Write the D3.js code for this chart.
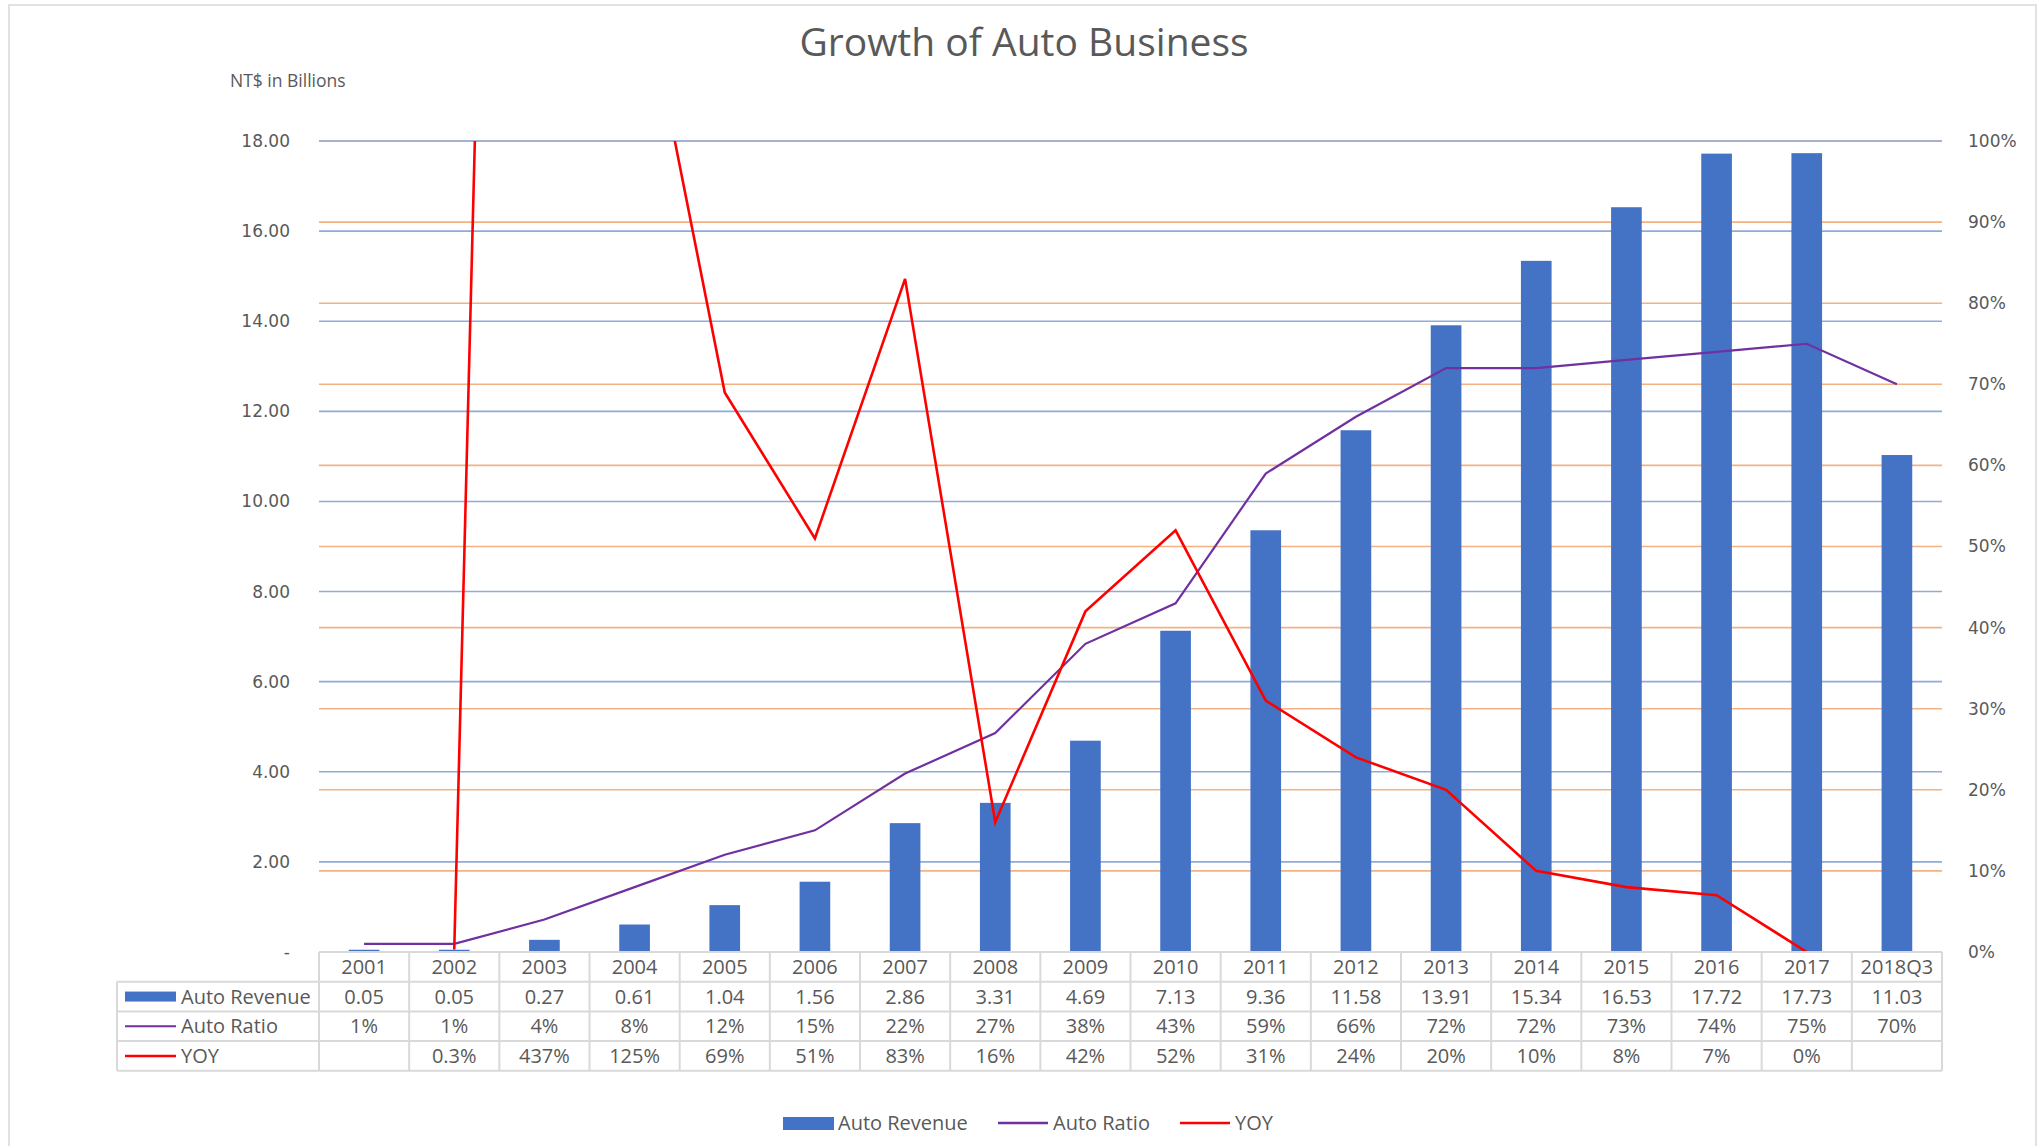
<!DOCTYPE html>
<meta charset="utf-8">
<script src="https://d3js.org/d3.v7.min.js"></script>
<style>
  body { margin: 0; background: #fff; }
  text { fill: #595959; }
</style>
<div id="chart"></div>
<script>

// data
var categories = ["2001","2002","2003","2004","2005","2006","2007","2008","2009",
                  "2010","2011","2012","2013","2014","2015","2016","2017","2018Q3"];
var revenue = [0.05,0.05,0.27,0.61,1.04,1.56,2.86,3.31,4.69,7.13,9.36,11.58,13.91,15.34,16.53,17.72,17.73,11.03];
var ratio   = [0.01,0.01,0.04,0.08,0.12,0.15,0.22,0.27,0.38,0.43,0.59,0.66,0.72,0.72,0.73,0.74,0.75,0.70];
var yoy     = [null,0.003,4.37,1.25,0.69,0.51,0.83,0.16,0.42,0.52,0.31,0.24,0.20,0.10,0.08,0.07,0.00,null];
var leftTicks  = [0,2,4,6,8,10,12,14,16,18];
var rightTicks = [0,0.1,0.2,0.3,0.4,0.5,0.6,0.7,0.8,0.9,1.0];

var width = 2042, height = 1146;
var plotLeft = 319, plotRight = 1942, plotTop = 141, plotBottom = 952;
var rowH = 29.7;
var tableLeft = 117;

var blue = "#4472C4", purple = "#7030A0", red = "#FF0000";

var svg = d3.select("#chart").append("svg")
    .attr("width", width)
    .attr("height", height);

// outer chart border
svg.append("rect")
    .attr("x", 9).attr("y", 5)
    .attr("width", 2027).attr("height", 1160)
    .attr("fill", "none")
    .attr("stroke", "#d9d9d9")
    .attr("stroke-width", 1.5);

var x = d3.scaleBand().domain(categories).range([plotLeft, plotRight]);
var y = d3.scaleLinear().domain([0, 18]).range([plotBottom, plotTop]);
var yR = d3.scaleLinear().domain([0, 1]).range([plotBottom, plotTop]);

// title
svg.append("text")
    .attr("x", 1024).attr("y", 56)
    .attr("text-anchor", "middle")
    .style("font-family", "Open Sans")
    .style("font-size", "39px")
    .text("Growth of Auto Business");

svg.append("text")
    .attr("x", 230).attr("y", 87)
    .style("font-family", "Open Sans")
    .style("font-size", "17.5px")
    .text("NT$ in Billions");

// gridlines: orange for right axis, blue for left axis
svg.append("g").selectAll("line")
  .data(rightTicks.slice(1))
  .enter().append("line")
    .attr("x1", plotLeft).attr("x2", plotRight)
    .attr("y1", function(d){ return yR(d); })
    .attr("y2", function(d){ return yR(d); })
    .attr("stroke", "#F4B183")
    .attr("stroke-width", 1.6);

svg.append("g").selectAll("line")
  .data(leftTicks.slice(1))
  .enter().append("line")
    .attr("x1", plotLeft).attr("x2", plotRight)
    .attr("y1", function(d){ return y(d); })
    .attr("y2", function(d){ return y(d); })
    .attr("stroke", "#8FAADC")
    .attr("stroke-width", 1.6);

// axes
var axL = svg.append("g")
    .attr("transform", "translate(" + (plotLeft - 26) + ",0)")
    .call(d3.axisLeft(y).tickValues(leftTicks).tickSize(0)
      .tickFormat(function(d){ return d === 0 ? "-" : d3.format(".2f")(d); }));
var axR = svg.append("g")
    .attr("transform", "translate(" + (plotRight + 23) + ",0)")
    .call(d3.axisRight(yR).tickValues(rightTicks).tickSize(0).tickFormat(d3.format(".0%")));
[axL, axR].forEach(function(a){
  a.select(".domain").remove();
  a.selectAll("text")
    .style("font-family", "DejaVu Sans")
    .style("font-size", "17px")
    .style("fill", "#595959");
});

// bars
var barW = x.bandwidth() * 0.34;
svg.append("g").selectAll("rect")
  .data(revenue)
  .enter().append("rect")
    .attr("x", function(d, i){ return x(categories[i]) + (x.bandwidth() - barW) / 2; })
    .attr("y", function(d){ return y(d); })
    .attr("width", barW)
    .attr("height", function(d){ return plotBottom - y(d); })
    .attr("fill", blue);

// lines
svg.append("clipPath").attr("id", "plotclip")
  .append("rect")
    .attr("x", plotLeft).attr("y", plotTop)
    .attr("width", plotRight - plotLeft).attr("height", plotBottom - plotTop + 2);

var line = d3.line()
    .defined(function(d){ return d !== null; })
    .x(function(d, i){ return x(categories[i]) + x.bandwidth() / 2; })
    .y(function(d){ return yR(d); });

svg.append("path")
    .datum(ratio)
    .attr("d", line)
    .attr("fill", "none")
    .attr("stroke", purple)
    .attr("stroke-width", 2.2);

svg.append("path")
    .datum(yoy)
    .attr("clip-path", "url(#plotclip)")
    .attr("d", line)
    .attr("fill", "none")
    .attr("stroke", red)
    .attr("stroke-width", 2.6);

// data table
var table = svg.append("g");
var gridCol = "#d9d9d9";
var rows = [
  { name: "Auto Revenue", values: revenue.map(function(d){ return d3.format(".2f")(d); }) },
  { name: "Auto Ratio", values: ratio.map(function(d){ return d3.format(".0%")(d); }) },
  { name: "YOY", values: yoy.map(function(d){
      if (d === null) return "";
      return d < 0.01 && d > 0 ? d3.format(".1%")(d) : d3.format(".0%")(d); }) }
];

// horizontal lines
table.append("line")
    .attr("x1", plotLeft).attr("x2", plotRight)
    .attr("y1", plotBottom).attr("y2", plotBottom)
    .attr("stroke", gridCol).attr("stroke-width", 2);
for (var r = 1; r <= 4; r++) {
  table.append("line")
      .attr("x1", tableLeft).attr("x2", plotRight)
      .attr("y1", plotBottom + r * rowH).attr("y2", plotBottom + r * rowH)
      .attr("stroke", gridCol).attr("stroke-width", 2);
}
// vertical lines
table.append("line")
    .attr("x1", tableLeft).attr("x2", tableLeft)
    .attr("y1", plotBottom + rowH).attr("y2", plotBottom + 4 * rowH)
    .attr("stroke", gridCol).attr("stroke-width", 2);
categories.concat(["end"]).forEach(function(c, i){
  var xx = i < categories.length ? x(c) : plotRight;
  table.append("line")
      .attr("x1", xx).attr("x2", xx)
      .attr("y1", plotBottom).attr("y2", plotBottom + 4 * rowH)
      .attr("stroke", gridCol).attr("stroke-width", 2);
});

// header row
table.selectAll(".hdr")
  .data(categories)
  .enter().append("text")
    .attr("class", "hdr")
    .attr("x", function(d){ return x(d) + x.bandwidth() / 2; })
    .attr("y", plotBottom + rowH / 2)
    .attr("dy", "0.35em")
    .attr("text-anchor", "middle")
    .style("font-family", "Open Sans")
    .style("font-size", "20px")
    .text(function(d){ return d; });

rows.forEach(function(row, ri){
  var cy = plotBottom + (ri + 1.5) * rowH;
  table.append("text")
      .attr("x", 181).attr("y", cy).attr("dy", "0.35em")
      .style("font-family", "Open Sans")
      .style("font-size", "20px")
      .text(row.name);
  table.selectAll(".r" + ri)
    .data(row.values)
    .enter().append("text")
      .attr("x", function(d, i){ return x(categories[i]) + x.bandwidth() / 2; })
      .attr("y", cy).attr("dy", "0.35em")
      .attr("text-anchor", "middle")
      .style("font-family", "Open Sans")
      .style("font-size", "20px")
      .text(function(d){ return d; });
});

// legend keys inside the table
var keyY = function(ri){ return plotBottom + (ri + 1.5) * rowH; };
table.append("rect")
    .attr("x", 125).attr("y", keyY(0) - 5)
    .attr("width", 51).attr("height", 10)
    .attr("fill", blue);
table.append("line")
    .attr("x1", 125).attr("x2", 176)
    .attr("y1", keyY(1)).attr("y2", keyY(1))
    .attr("stroke", purple).attr("stroke-width", 2.2);
table.append("line")
    .attr("x1", 125).attr("x2", 176)
    .attr("y1", keyY(2)).attr("y2", keyY(2))
    .attr("stroke", red).attr("stroke-width", 2.6);

// bottom legend
var legend = svg.append("g");
var legendItems = [
  { name: "Auto Revenue", kind: "bar", color: blue, x: 783 },
  { name: "Auto Ratio", kind: "line", color: purple, x: 998 },
  { name: "YOY", kind: "line", color: red, x: 1180 }
];
var ly = 1123;
legendItems.forEach(function(it){
  if (it.kind === "bar") {
    legend.append("rect")
        .attr("x", it.x).attr("y", ly - 6)
        .attr("width", 51).attr("height", 13)
        .attr("fill", it.color);
  } else {
    legend.append("line")
        .attr("x1", it.x).attr("x2", it.x + 50)
        .attr("y1", ly).attr("y2", ly)
        .attr("stroke", it.color).attr("stroke-width", 2.5);
  }
  legend.append("text")
      .attr("x", it.x + 55).attr("y", ly).attr("dy", "0.35em")
      .style("font-family", "Open Sans")
      .style("font-size", "20px")
      .text(it.name);
});

</script>
